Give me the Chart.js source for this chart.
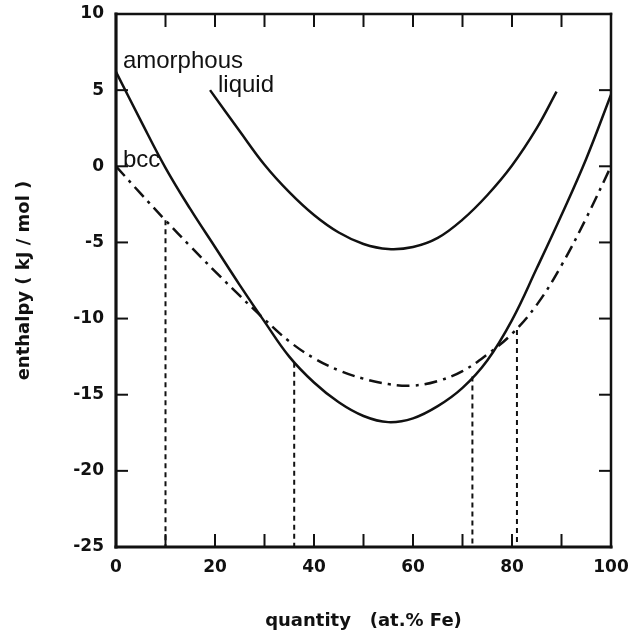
<!DOCTYPE html>
<html>
<head>
<meta charset="utf-8">
<script src="https://cdn.jsdelivr.net/npm/chart.js@4"></script>
<style>
  html, body { margin: 0; padding: 0; background: #fff; }
  canvas { display: block; }
</style>
</head>
<body>
<canvas id="chart" width="628" height="636"></canvas>
<script>
// composition (at.% Fe) sampled every 5 %
const xValues = [0, 5, 10, 15, 20, 25, 30, 35, 40, 45, 50, 55, 60, 65, 70, 75, 80, 85, 90, 95, 100];
const amorphous = [6.2, 3.0, -0.1, -2.8, -5.3, -7.8, -10.2, -12.5, -14.2, -15.5, -16.4, -16.8, -16.55, -15.75, -14.55, -12.75, -10.1, -6.7, -3.2, 0.5, 4.7];
const bcc = [0, -1.8, -3.55, -5.25, -6.9, -8.5, -10.05, -11.5, -12.6, -13.4, -13.95, -14.3, -14.4, -14.1, -13.45, -12.35, -11.0, -9.1, -6.5, -3.4, 0];

const liquidX = [19, 25, 30, 35, 40, 45, 50, 55, 60, 65, 70, 75, 80, 85, 89];
const liquid = [5.0, 2.3, 0.1, -1.7, -3.2, -4.35, -5.1, -5.43, -5.3, -4.7, -3.5, -1.9, 0.05, 2.5, 4.9];

// dashed drop lines from the curves down to the axis
const dropX = [10, 36, 72, 81];
const dropTop = [-3.55, -12.9, -13.8, -10.75];
const yMin = -25;

const tickFont = { family: 'DejaVu Sans', size: 17, weight: 'bold' };
const titleFont = { family: 'DejaVu Sans', size: 18, weight: 'bold' };
const ink = '#111';

const pairs = (xs, ys) => xs.map((x, i) => ({ x: x, y: ys[i] }));

const curve = (data, dash) => ({
    data: data,
    borderColor: ink,
    borderWidth: 2.5,
    borderDash: dash || [],
    pointRadius: 0,
    tension: 0.4,
    fill: false
});

const datasets = [
    curve(pairs(xValues, amorphous)),
    curve(pairs(liquidX, liquid)),
    curve(pairs(xValues, bcc), [13, 6, 3, 6])
];
dropX.forEach((x, i) => {
    datasets.push({
        data: [{ x: x, y: dropTop[i] }, { x: x, y: yMin }],
        borderColor: ink,
        borderWidth: 2,
        borderDash: [5, 4],
        pointRadius: 0,
        fill: false
    });
});

// inward ticks on all four sides, the frame and the curve names
const framePlugin = {
    id: 'frame',
    afterDatasetsDraw(chart) {
        const { ctx, chartArea: a, scales: { x, y } } = chart;
        const line = (x1, y1, x2, y2) => {
            ctx.beginPath();
            ctx.moveTo(x1, y1);
            ctx.lineTo(x2, y2);
            ctx.stroke();
        };
        ctx.save();
        ctx.strokeStyle = ink;
        ctx.lineWidth = 2;
        x.ticks.forEach(t => {
            const px = x.getPixelForValue(t.value);
            line(px, a.bottom, px, a.bottom - 13);
            line(px, a.top, px, a.top + 13);
        });
        y.ticks.forEach(t => {
            const py = y.getPixelForValue(t.value);
            line(a.left, py, a.left + 12, py);
            line(a.right, py, a.right - 12, py);
        });
        ctx.lineCap = 'square';
        ctx.lineWidth = 2.5;
        line(a.left, a.top, a.right, a.top);
        line(a.right, a.top, a.right, a.bottom);
        ctx.lineWidth = 3.2;
        line(a.left, a.top, a.left, a.bottom);
        line(a.left, a.bottom, a.right, a.bottom);

        ctx.fillStyle = ink;
        ctx.font = '24px "Liberation Sans"';
        ctx.textBaseline = 'alphabetic';
        ctx.textAlign = 'left';
        ctx.fillText('amorphous', x.getPixelForValue(1.4), y.getPixelForValue(6.45));
        ctx.fillText('liquid', x.getPixelForValue(20.6), y.getPixelForValue(4.9));
        ctx.fillText('bcc', x.getPixelForValue(1.4), y.getPixelForValue(-0.05));
        ctx.restore();
    }
};

new Chart(document.getElementById('chart'), {
    type: 'line',
    data: { datasets: datasets },
    plugins: [framePlugin],
    options: {
        responsive: false,
        animation: false,
        devicePixelRatio: 1,
        layout: { padding: { top: 14, right: 17, left: 0, bottom: 0 } },
        plugins: {
            legend: { display: false },
            tooltip: { enabled: false }
        },
        scales: {
            x: {
                type: 'linear',
                min: 0,
                max: 100,
                grid: { display: false, drawTicks: false },
                border: { display: false },
                ticks: {
                    stepSize: 10,
                    padding: 10,
                    color: ink,
                    font: tickFont,
                    maxRotation: 0,
                    autoSkip: false,
                    callback: v => (v % 20 === 0 ? v : '')
                },
                title: {
                    display: true,
                    text: 'quantity   (at.% Fe)',
                    color: ink,
                    font: titleFont,
                    padding: { top: 0, bottom: 4 }
                },
                afterFit: s => {
                    s.height = 89;
                    s.paddingLeft = 0;
                    s.paddingRight = 0;
                }
            },
            y: {
                min: yMin,
                max: 10,
                grid: { display: false, drawTicks: false },
                border: { display: false },
                ticks: {
                    stepSize: 5,
                    padding: 12,
                    color: ink,
                    font: tickFont
                },
                title: {
                    display: true,
                    text: 'enthalpy ( kJ / mol )',
                    color: ink,
                    font: titleFont,
                    padding: { top: 14, bottom: 0 }
                },
                afterFit: s => {
                    s.width = 116;
                    s.paddingTop = 0;
                    s.paddingBottom = 0;
                }
            }
        }
    }
});
</script>
</body>
</html>
